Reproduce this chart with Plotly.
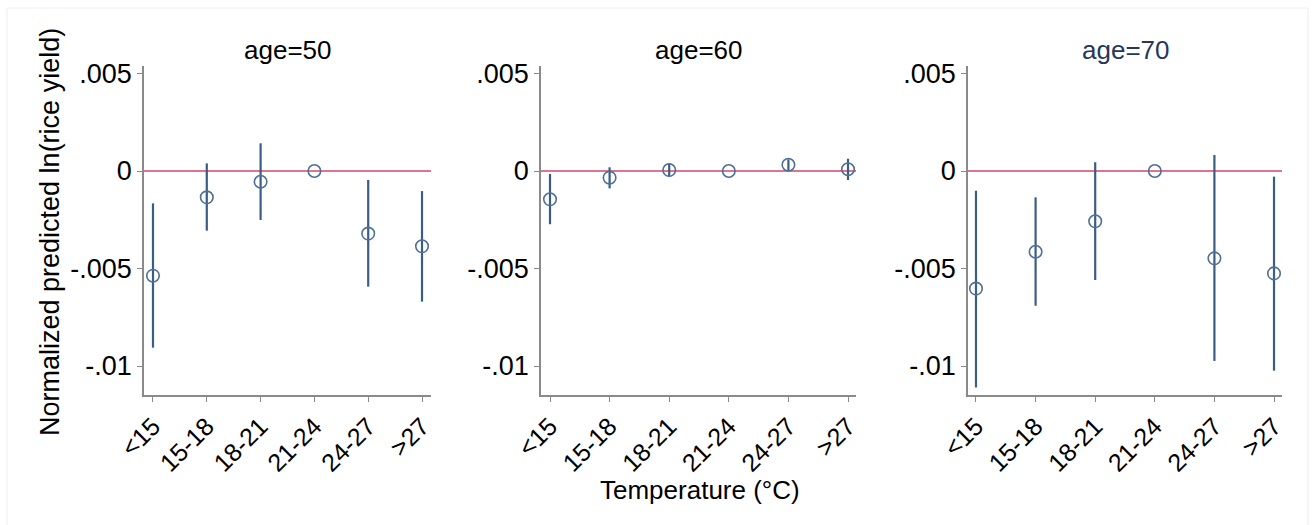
import plotly.graph_objects as go

categories = ["<15", "15-18", "18-21", "21-24", "24-27", ">27"]
panel_titles = ["age=50", "age=60", "age=70"]

est_50 = [-0.00537, -0.00135, -0.00055, 0.0, -0.00321, -0.00386]
lo_50 = [-0.00906, -0.00306, -0.00251, 0.0, -0.00593, -0.00670]
hi_50 = [-0.00166, 0.00039, 0.00142, 0.0, -0.00046, -0.00103]

est_60 = [-0.00145, -0.00034, 0.00005, 0.0, 0.00032, 0.00009]
lo_60 = [-0.00273, -0.00089, -0.00029, 0.0, 0.00002, -0.00046]
hi_60 = [-0.00015, 0.00019, 0.00039, 0.0, 0.00060, 0.00063]

est_70 = [-0.00603, -0.00414, -0.00258, 0.0, -0.00448, -0.00525]
lo_70 = [-0.01110, -0.00691, -0.00559, 0.0, -0.00974, -0.01024]
hi_70 = [-0.00101, -0.00135, 0.00045, 0.0, 0.00082, -0.00029]

ytick_vals = [0.005, 0.0, -0.005, -0.01]
ytick_text = [".005", "0", "-.005", "-.01"]

W, H = 1312, 525
# pixel geometry of each panel: (left, right, xrange)
panels = [
    (144, 431, [-0.167, 5.167]),
    (541, 856, [-0.151, 5.134]),
    (968, 1282, [-0.134, 5.134]),
]
top_px, bot_px = 66, 395
yrange = [-0.011487, 0.005385]

series = [(est_50, lo_50, hi_50), (est_60, lo_60, hi_60), (est_70, lo_70, hi_70)]
title_colors = ["#000000", "#000000", "#26375a"]

FONT = "Liberation Sans, Arial, sans-serif"
marker_col = "#4f6f95"
bar_col = "#3a5c85"
zero_col = "#d4466c"
axis_col = "#8a8a8a"

fig = go.Figure()
layout = dict(
    template="none",
    width=W, height=H,
    margin=dict(l=0, r=0, t=0, b=0, pad=0),
    paper_bgcolor="white", plot_bgcolor="white",
    showlegend=False,
    font=dict(family=FONT, color="black"),
)
annotations = []
shapes = []
for i, ((left, right, xr), (est, lo, hi)) in enumerate(zip(panels, series)):
    n = "" if i == 0 else str(i + 1)
    xa, ya = "x" + n, "y" + n
    err_plus = [h - e for h, e in zip(hi, est)]
    err_minus = [e - l for e, l in zip(est, lo)]
    fig.add_trace(go.Scatter(
        x=categories, y=est, mode="markers",
        marker=dict(symbol="circle-open", size=12.5, color=marker_col, line=dict(width=1.6, color=marker_col)),
        error_y=dict(type="data", symmetric=False, array=err_plus, arrayminus=err_minus,
                     width=0, thickness=2.2, color=bar_col),
        xaxis=xa, yaxis=ya, cliponaxis=False,
    ))
    dom_x = [left / W, right / W]
    dom_y = [1 - bot_px / H, 1 - top_px / H]
    layout["xaxis" + n] = dict(
        domain=dom_x, type="category", categoryorder="array", categoryarray=categories,
        range=xr, showgrid=False, zeroline=False, showline=True, linecolor=axis_col, linewidth=1.5,
        ticks="outside", ticklen=5, tickcolor=axis_col, tickwidth=1.2, tickangle=-45,
        tickfont=dict(size=25, family=FONT, color="black"), anchor=ya, fixedrange=True,
        automargin=False,
    )
    layout["yaxis" + n] = dict(
        domain=dom_y, range=yrange, showgrid=False, zeroline=False, showline=True,
        linecolor=axis_col, linewidth=1.5, ticks="outside", ticklen=5, tickcolor=axis_col,
        tickwidth=1.2, tickvals=ytick_vals, ticktext=ytick_text,
        tickfont=dict(size=27, family=FONT, color="black"), anchor=xa, fixedrange=True,
        automargin=False,
    )
    shapes.append(dict(type="line", xref=xa + " domain", yref=ya, x0=0, x1=1, y0=0, y1=0,
                       line=dict(color=zero_col, width=1.3), layer="below"))
    annotations.append(dict(text=panel_titles[i], x=(left + right) / 2 / W, y=1 - 50 / H,
                            xref="paper", yref="paper", showarrow=False, xanchor="center", yanchor="middle",
                            font=dict(size=26, family=FONT, color=title_colors[i])))

annotations.append(dict(text="Temperature (°C)", x=700 / W, y=1 - 490 / H, xref="paper", yref="paper",
                        showarrow=False, xanchor="center", yanchor="middle",
                        font=dict(size=26, family=FONT, color="black")))
annotations.append(dict(text="Normalized predicted ln(rice yield)", x=50 / W, y=1 - 232 / H,
                        xref="paper", yref="paper", showarrow=False, textangle=-90,
                        xanchor="center", yanchor="middle",
                        font=dict(size=27, family=FONT, color="black")))
shapes.append(dict(type="rect", xref="paper", yref="paper", x0=7 / W, x1=1308 / W, y0=-0.02, y1=1 - 8 / H,
                   line=dict(color="#eeeeee", width=1), layer="below"))
layout["annotations"] = annotations
layout["shapes"] = shapes
fig.update_layout(**layout)
fig.write_html(
    "out.html",
    config={"displayModeBar": False},
    post_script="document.body.style.margin='0';document.body.style.overflow='hidden';",
)
